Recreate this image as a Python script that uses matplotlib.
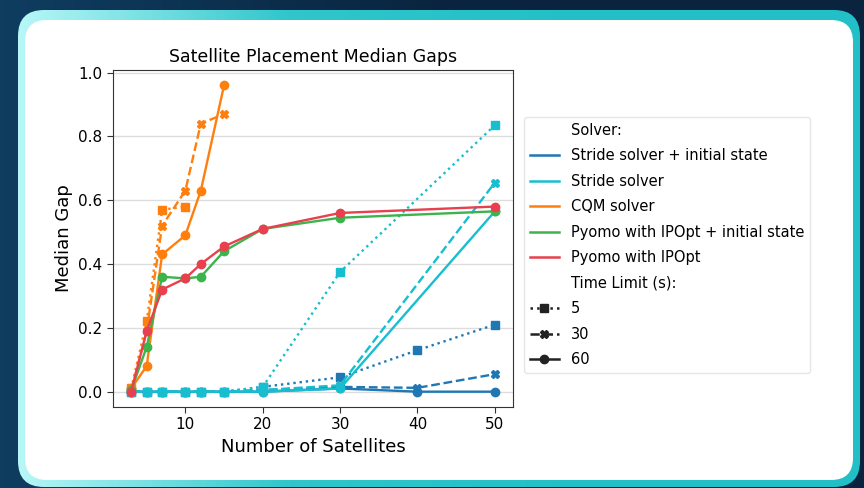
import numpy as np
import matplotlib.pyplot as plt
from matplotlib.patches import FancyBboxPatch
from matplotlib.lines import Line2D
from matplotlib.colors import LinearSegmentedColormap

# Number of satellites for each group of runs
sats = [3, 5, 7, 10, 12, 15, 20, 30, 40, 50]
sats_stride = [3, 5, 7, 10, 12, 15, 20, 30, 50]
sats_cqm_5 = [3, 5, 7, 10]
sats_cqm = [3, 5, 7, 10, 12, 15]
sats_pyomo = [3, 5, 7, 10, 12, 15, 20, 30, 50]

# Stride solver + initial state (5 s, 30 s, 60 s)
stride_init_5 = [0, 0, 0, 0, 0, 0, 0.015, 0.045, 0.13, 0.21]
stride_init_30 = [0, 0, 0, 0, 0, 0, 0.005, 0.015, 0.012, 0.055]
stride_init_60 = [0, 0, 0, 0, 0, 0, 0.0, 0.01, 0.0, 0.0]

# Stride solver
stride_5 = [0, 0, 0, 0, 0, 0, 0.015, 0.375, 0.835]
stride_30 = [0, 0, 0, 0, 0, 0, 0.005, 0.02, 0.655]
stride_60 = [0, 0, 0, 0, 0, 0, 0.0, 0.01, 0.565]

# CQM solver
cqm_5 = [0.01, 0.22, 0.57, 0.58]
cqm_30 = [0.005, 0.19, 0.52, 0.63, 0.84, 0.87]
cqm_60 = [0.01, 0.08, 0.43, 0.49, 0.63, 0.96]

# Pyomo (60 s only)
pyomo_init_60 = [0.005, 0.14, 0.36, 0.355, 0.36, 0.44, 0.51, 0.545, 0.565]
pyomo_60 = [0.0, 0.19, 0.32, 0.355, 0.40, 0.455, 0.51, 0.56, 0.58]

solvers = ["Stride solver + initial state", "Stride solver", "CQM solver",
           "Pyomo with IPOpt + initial state", "Pyomo with IPOpt"]
colors = ["#1f77b4", "#17becf", "#ff7f0e", "#3cb44b", "#e8404f"]
limits = ["5", "30", "60"]
styles = {"5": (":", "s"), "30": ("--", "X"), "60": ("-", "o")}

runs = [
    (0, "5", sats, stride_init_5), (0, "30", sats, stride_init_30),
    (0, "60", sats, stride_init_60),
    (1, "5", sats_stride, stride_5), (1, "30", sats_stride, stride_30),
    (1, "60", sats_stride, stride_60),
    (2, "5", sats_cqm_5, cqm_5), (2, "30", sats_cqm, cqm_30),
    (2, "60", sats_cqm, cqm_60),
    (3, "60", sats_pyomo, pyomo_init_60),
    (4, "60", sats_pyomo, pyomo_60),
]

fig = plt.figure(figsize=(8.64, 4.88), dpi=100)

# Background: dark gradient with a rounded white card
bg = fig.add_axes([0, 0, 1, 1])
bg.set_xlim(0, 864)
bg.set_ylim(488, 0)
bg.axis("off")
grad = np.linspace(0, 1, 256).reshape(1, -1)
bg.imshow(grad, extent=[0, 864, 488, 0], aspect="auto",
          cmap=LinearSegmentedColormap.from_list("bg", ["#0f3d60", "#0a2540", "#0a2440"]))
outer = FancyBboxPatch((18, 10), 842, 477, boxstyle="round,pad=0,rounding_size=26",
                       facecolor="none", edgecolor="none")
bg.add_patch(outer)
border = bg.imshow(grad, extent=[0, 864, 488, 0], aspect="auto",
                   cmap=LinearSegmentedColormap.from_list(
                       "bd", ["#c0fafa", "#30c6cb", "#22c0c6", "#22c0c6"]))
border.set_clip_path(outer)
card = FancyBboxPatch((25, 20), 828, 460, boxstyle="round,pad=0,rounding_size=22",
                      facecolor="white", edgecolor="none")
bg.add_patch(card)

ax = fig.add_axes([0.1308, 0.166, 0.463, 0.6906])
for si, lim, xs, ys in runs:
    ls, mk = styles[lim]
    ax.plot(xs, ys, linestyle=ls, marker=mk, color=colors[si],
            linewidth=1.7, markersize=6)

ax.set_xlim(0.65, 52.35)
ax.set_ylim(-0.048, 1.008)
ax.set_xticks([10, 20, 30, 40, 50])
ax.set_yticks([0.0, 0.2, 0.4, 0.6, 0.8, 1.0])
ax.yaxis.grid(True, color="#dddddd", linewidth=1)
ax.set_axisbelow(True)
ax.tick_params(labelsize=11, length=4, color="#333333")
for sp in ax.spines.values():
    sp.set_color("#333333")
ax.set_title("Satellite Placement Median Gaps", fontsize=12.5)
ax.set_xlabel("Number of Satellites", fontsize=13)
ax.set_ylabel("Median Gap", fontsize=13)

# Legend in the seaborn style: two titled sections
blank = Line2D([], [], linestyle="none")
handles = [blank]
labels = ["Solver:"]
for name, c in zip(solvers, colors):
    handles.append(Line2D([], [], color=c, linewidth=1.8))
    labels.append(name)
handles.append(blank)
labels.append("Time Limit (s):")
for lim in limits:
    ls, mk = styles[lim]
    handles.append(Line2D([], [], color="#222222", linestyle=ls, marker=mk,
                          linewidth=1.8, markersize=6))
    labels.append(lim)
fig.legend(handles, labels, loc="upper left", bbox_to_anchor=(0.598, 0.775),
           fontsize=10.5, labelspacing=0.72, handlelength=2.0,
           edgecolor="#e6e6e6", framealpha=1)

fig.savefig("out.png", dpi=100)
